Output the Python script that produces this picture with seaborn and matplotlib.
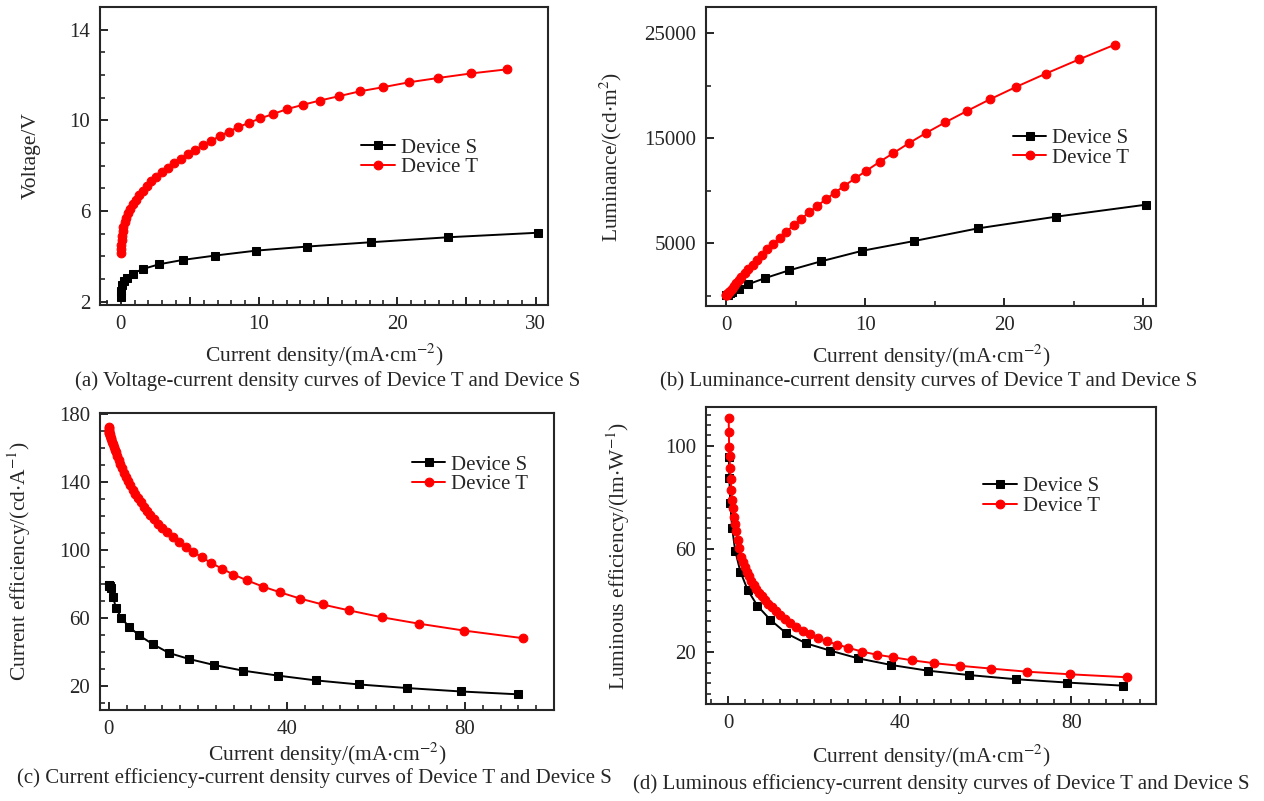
import matplotlib
matplotlib.use("Agg")
import matplotlib.pyplot as plt
from matplotlib.ticker import MultipleLocator, FuncFormatter
import seaborn as sns

# Device T: current density (mA/cm2), panels (a)/(b) use the first 42 points,
# panel (d) starts at the 5th point
T_J = [0.01, 0.02, 0.04, 0.06, 0.09, 0.13, 0.19, 0.28, 0.40, 0.54,
       0.70, 0.89, 1.10, 1.34, 1.60, 1.90, 2.22, 2.58, 2.97, 3.40,
       3.85, 4.33, 4.85, 5.40, 5.97, 6.55, 7.15, 7.80, 8.50, 9.27,
       10.07, 11.03, 12.00, 13.15, 14.38, 15.75, 17.30, 18.96, 20.87, 22.98,
       25.36, 27.94, 31.1, 34.6, 38.4, 42.9, 48.0, 54.0, 61.3, 69.7,
       79.7, 93.0]
T_V = [4.13, 4.30, 4.50, 4.70, 4.90, 5.10, 5.30, 5.50, 5.70, 5.90,
       6.10, 6.30, 6.50, 6.70, 6.90, 7.10, 7.30, 7.50, 7.70, 7.90,
       8.10, 8.30, 8.50, 8.70, 8.90, 9.10, 9.30, 9.50, 9.70, 9.89,
       10.08, 10.28, 10.49, 10.68, 10.87, 11.06, 11.28, 11.46, 11.68, 11.87,
       12.07, 12.25]
T_L = [17, 34, 68, 102, 152, 219, 319, 468, 664, 891,
       1145, 1442, 1766, 2131, 2520, 2955, 3397, 3883, 4396, 4947,
       5506, 6084, 6693, 7317, 7940, 8548, 9152, 9789, 10455, 11170,
       11883, 12739, 13560, 14531, 15502, 16506, 17580, 18700, 19900, 21150,
       22500, 23910]
T_CE = [172.5, 171.5, 170.5, 170.0, 169.0, 168.5, 168.0, 167.0, 166.0, 165.0,
        163.5, 162.0, 160.5, 159.0, 157.5, 155.5, 153.0, 150.5, 148.0, 145.5,
        143.0, 140.5, 138.0, 135.5, 133.0, 130.5, 128.0, 125.5, 123.0, 120.5,
        118.0, 115.5, 113.0, 110.5, 107.8, 104.8, 101.8, 98.9, 95.7, 92.4,
        89.1, 85.6, 82.1, 78.5, 75.2, 71.5, 68.0, 64.5, 60.5, 56.7,
        52.7, 48.2]
T_LE = [110.7, 105.5, 99.7, 95.9, 91.4, 87.2, 83.0, 79.1, 75.9, 72.6,
        69.7, 66.8, 63.6, 60.3, 57.1, 55.0, 53.0, 51.2, 49.4, 47.8,
        46.2, 44.6, 43.1, 41.7, 40.2, 38.8, 37.4, 35.9, 34.5, 33.0,
        31.5, 30.0, 28.4, 27.0, 25.6, 24.3, 23.0, 21.8, 20.3, 19.1,
        18.1, 16.9, 15.8, 14.8, 13.7, 12.5, 11.5, 10.35]

# Device S: panels (a)/(b) use the first 15 points, panel (d) starts at the 3rd
S_J = [0.01, 0.04, 0.12, 0.25, 0.45, 0.9, 1.6, 2.8, 4.5, 6.8,
       9.8, 13.5, 18.1, 23.7, 30.2, 38.0, 46.5, 56.2, 67.0, 79.0, 92.0]
S_V = [2.2, 2.45, 2.72, 2.9, 3.03, 3.24, 3.44, 3.65, 3.84, 4.03,
       4.25, 4.43, 4.62, 4.84, 5.04]
S_L = [8, 32, 95, 197, 350, 640, 1080, 1660, 2390, 3250,
       4270, 5190, 6400, 7510, 8660]
S_CE = [79.5, 79.3, 79.0, 78.6, 77.5, 72.5, 66.0, 60.0, 55.0, 49.8,
        44.8, 39.5, 35.9, 32.4, 29.1, 26.2, 23.4, 21.0, 18.9, 16.9, 15.2]
S_LE = [95.6, 87.5, 77.8, 68.1, 59.4, 51.3, 44.2, 38.0, 32.6, 27.4,
        23.5, 20.7, 17.7, 15.1, 12.9, 11.2, 9.6, 8.3, 7.1]

xlab = r'Current density/(mA$\cdot$cm$^{-2}$)'

sns.set_theme(style="ticks")
plt.rcParams['font.family'] = ['Liberation Serif', 'DejaVu Serif']
plt.rcParams['mathtext.fontset'] = 'stix'
plt.rcParams['axes.linewidth'] = 1.5
plt.rcParams['xtick.direction'] = 'in'
plt.rcParams['ytick.direction'] = 'in'

W, H = 1264, 801
fig = plt.figure(figsize=(W / 100, H / 100), dpi=100)


def px_axes(left, top, right, bottom):
    return fig.add_axes([left / W, 1 - bottom / H, (right - left) / W, (bottom - top) / H])


def draw(ax, sx, sy, tx, ty):
    sns.lineplot(x=sx, y=sy, ax=ax, color='black', marker='s', markersize=5.5,
                 markeredgecolor='black', linewidth=1.4, label='Device S',
                 estimator=None, sort=False)
    sns.lineplot(x=tx, y=ty, ax=ax, color='red', marker='o', markersize=6.3,
                 markeredgecolor='red', linewidth=1.4, label='Device T',
                 estimator=None, sort=False)


def style(ax, ylabel, ylab_x, xlab_y, leg_xy):
    for sp in ax.spines.values():
        sp.set_visible(True)
        sp.set_linewidth(1.5)
    ax.tick_params(axis='both', which='major', length=6, width=1.4, labelsize=15, pad=7)
    ax.tick_params(axis='both', which='minor', length=3.5, width=1.2)
    ax.tick_params(top=False, right=False, which='both')
    ax.set_xlabel(xlab, fontsize=15.5)
    ax.set_ylabel(ylabel, fontsize=15.5)
    ax.yaxis.set_label_coords(ylab_x, 0.5)
    ax.xaxis.set_label_coords(0.5, xlab_y)
    ax.legend(loc='upper left', bbox_to_anchor=leg_xy, frameon=False, fontsize=15,
              borderpad=0, borderaxespad=0, handlelength=1.6, handletextpad=0.3,
              labelspacing=0.0)


# (a) voltage
ax = px_axes(100, 7, 548, 305)
draw(ax, S_J[:len(S_V)], S_V, T_J[:len(T_V)], T_V)
ax.set_xlim(-1.5, 30.9)
ax.set_ylim(1.85, 15)
ax.xaxis.set_major_locator(MultipleLocator(5))
ax.xaxis.set_major_formatter(FuncFormatter(lambda v, p: f"{v:.0f}" if v % 10 == 0 else ""))
ax.xaxis.set_minor_locator(MultipleLocator(1))
ax.set_yticks([2, 6, 10, 14])
ax.yaxis.set_minor_locator(MultipleLocator(1))
style(ax, 'Voltage/V', -0.132, -0.125, (0.583, 0.56))

# (b) luminance
ax = px_axes(706, 7, 1156, 306)
draw(ax, S_J[:len(S_L)], S_L, T_J[:len(T_L)], T_L)
ax.set_xlim(-1.45, 30.9)
ax.set_ylim(-1000, 27500)
ax.xaxis.set_major_locator(MultipleLocator(10))
ax.xaxis.set_minor_locator(MultipleLocator(5))
ax.set_yticks([5000, 15000, 25000])
ax.yaxis.set_minor_locator(MultipleLocator(5000))
style(ax, r'Luminance/(cd$\cdot$m$^{2}$)', -0.182, -0.122, (0.682, 0.594))

# (c) current efficiency
ax = px_axes(100, 413, 554, 710)
draw(ax, S_J, S_CE, T_J, T_CE)
ax.set_xlim(-2, 100)
ax.set_ylim(6, 180.5)
ax.xaxis.set_major_locator(MultipleLocator(40))
ax.xaxis.set_minor_locator(MultipleLocator(4))
ax.set_yticks([20, 60, 100, 140, 180])
ax.yaxis.set_minor_locator(MultipleLocator(10))
style(ax, r'Current efficiency/(cd$\cdot$A$^{-1}$)', -0.148, -0.103, (0.687, 0.858))

# (d) luminous efficiency
ax = px_axes(706, 407, 1156, 704)
draw(ax, S_J[len(S_J) - len(S_LE):], S_LE, T_J[len(T_J) - len(T_LE):], T_LE)
ax.set_xlim(-5.2, 99.7)
ax.set_ylim(0, 115)
ax.xaxis.set_major_locator(MultipleLocator(40))
ax.xaxis.set_minor_locator(MultipleLocator(4))
ax.set_yticks([20, 60, 100])
ax.yaxis.set_minor_locator(MultipleLocator(4))
style(ax, r'Luminous efficiency/(lm$\cdot$W$^{-1}$)', -0.164, -0.13, (0.616, 0.765))

captions = [
    (328, 381, '(a) Voltage-current density curves of Device T and Device S'),
    (929, 381, '(b) Luminance-current density curves of Device T and Device S'),
    (314, 778, '(c) Current efficiency-current density curves of Device T and Device S'),
    (941, 784, '(d) Luminous efficiency-current density curves of Device T and Device S'),
]
for cx, cy, txt in captions:
    fig.text(cx / W, 1 - cy / H, txt, ha='center', va='center', fontsize=15)

fig.savefig('out.png', dpi=100, facecolor='white')
